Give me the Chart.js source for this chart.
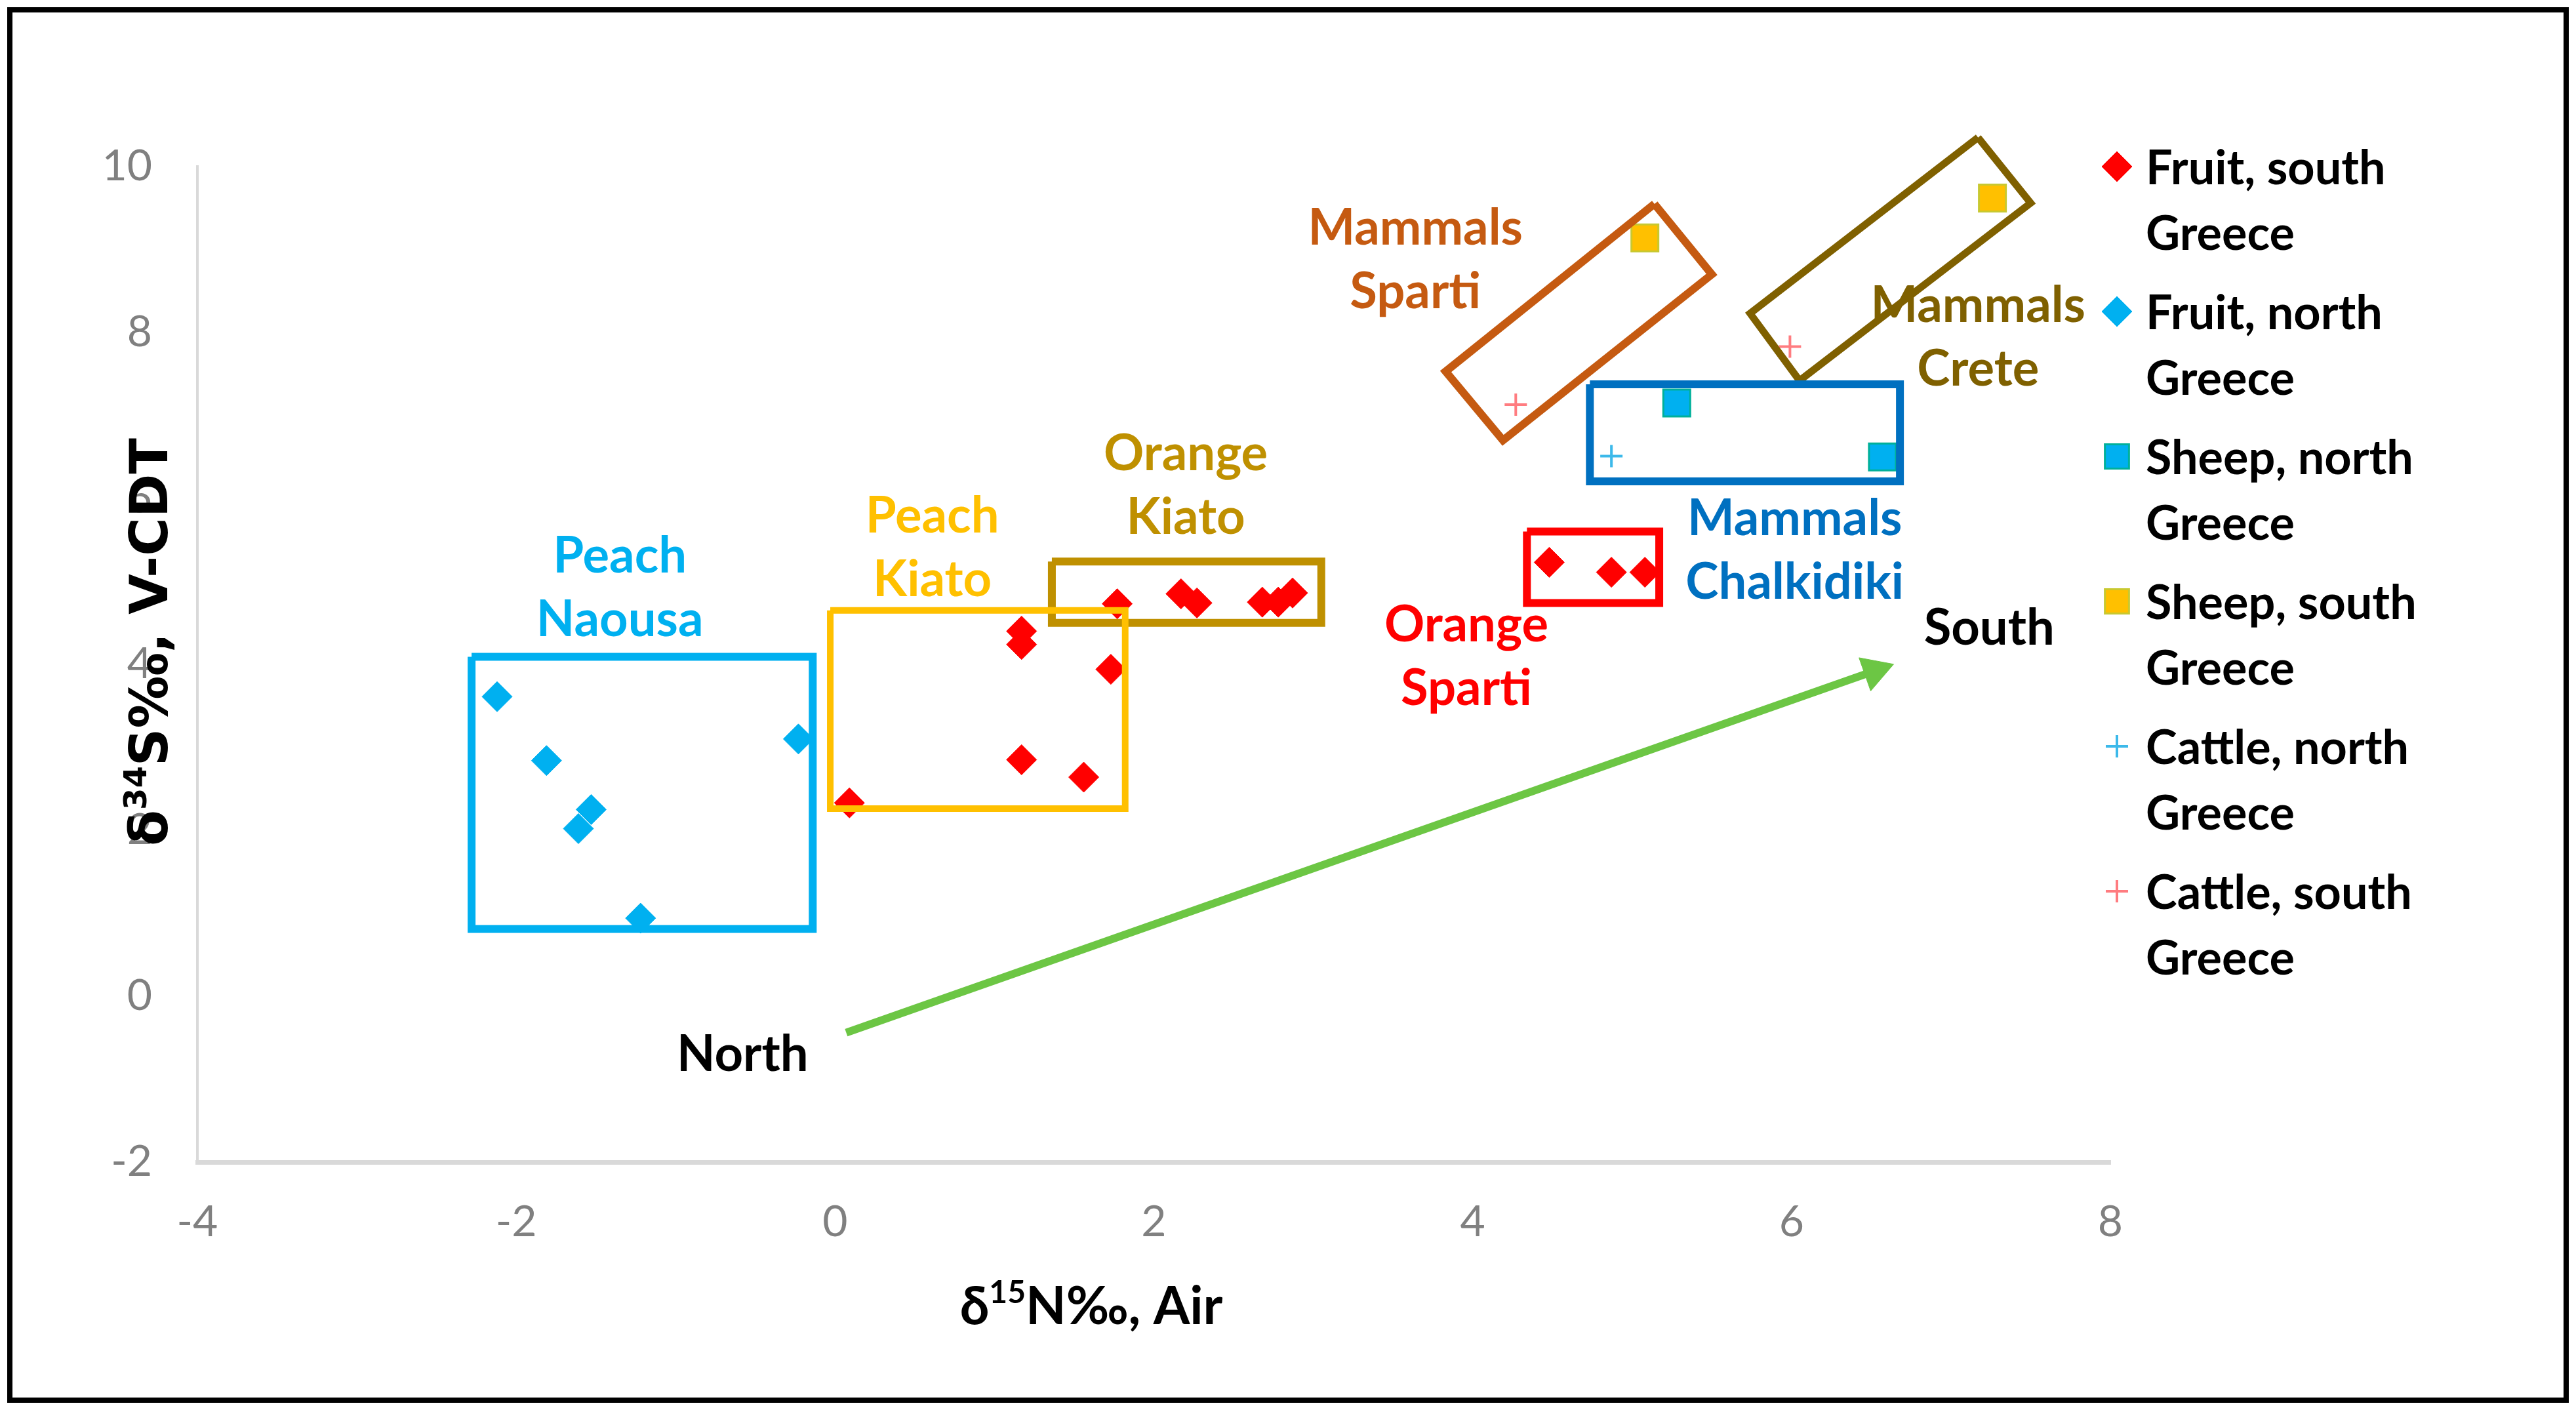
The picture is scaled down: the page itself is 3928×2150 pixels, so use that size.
<!DOCTYPE html>
<html>
<head>
<meta charset="utf-8">
<script src="https://cdn.jsdelivr.net/npm/chart.js@4.4.1/dist/chart.umd.min.js"></script>
<style>
  html, body { margin: 0; padding: 0; background: #fff; }
  canvas { display: block; }
</style>
</head>
<body>
<canvas id="myChart" width="3928" height="2150"></canvas>
<script>
// d15N (x) and d34S (y) values
const fruitSouthX = [0.09, 1.17, 1.17, 1.17, 1.56, 1.73, 1.77, 2.17, 2.27, 2.68, 2.78, 2.87, 4.48, 4.87, 5.08];
const fruitSouthY = [2.33, 4.40, 4.24, 2.85, 2.64, 3.94, 4.73, 4.85, 4.74, 4.75, 4.75, 4.86, 5.23, 5.11, 5.11];
const fruitNorthX = [-2.12, -1.81, -1.61, -1.53, -1.22, -0.23];
const fruitNorthY = [3.61, 2.84, 2.02, 2.25, 0.94, 3.10];
const sheepNorthX = [5.28, 6.57];
const sheepNorthY = [7.15, 6.50];
const sheepSouthX = [5.08, 7.26];
const sheepSouthY = [9.14, 9.62];
const cattleNorthX = [4.87];
const cattleNorthY = [6.51];
const cattleSouthX = [4.27, 5.99];
const cattleSouthY = [7.13, 7.83];

const xTicks = [-4, -2, 0, 2, 4, 6, 8];
const yTicks = [-2, 0, 2, 4, 6, 8, 10];

const seriesNames = [
  ["Fruit, south", "Greece"],
  ["Fruit, north", "Greece"],
  ["Sheep, north", "Greece"],
  ["Sheep, south", "Greece"],
  ["Cattle, north", "Greece"],
  ["Cattle, south", "Greece"],
];

// group outlines, corners in data units
const boxNames = ["Peach Naousa", "Peach Kiato", "Orange Kiato", "Orange Sparti",
  "Mammals Chalkidiki", "Mammals Sparti", "Mammals Crete"];
const boxX = [
  [-2.28, -0.14, -0.14, -2.28],
  [-0.03, 1.82, 1.82, -0.03],
  [1.36, 3.05, 3.05, 1.36],
  [4.34, 5.17, 5.17, 4.34],
  [4.735, 6.68, 6.68, 4.735],
  [5.14, 5.50, 4.19, 3.83],
  [7.17, 7.50, 6.05, 5.74],
];
const boxY = [
  [4.09, 4.09, 0.81, 0.81],
  [4.65, 4.65, 2.26, 2.26],
  [5.24, 5.24, 4.50, 4.50],
  [5.60, 5.60, 4.74, 4.74],
  [7.375, 7.375, 6.205, 6.205],
  [9.55, 8.70, 6.70, 7.53],
  [10.35, 9.56, 7.42, 8.23],
];

// north -> south arrow (start, head centre)
const arrowX = [0.07, 6.52];
const arrowY = [-0.44, 3.92];

// text notes on the plot
const noteText = [["Peach", "Naousa"], ["Peach", "Kiato"], ["Orange", "Kiato"], ["Mammals", "Sparti"],
  ["Mammals", "Crete"], ["Mammals", "Chalkidiki"], ["Orange", "Sparti"], ["South"], ["North"]];
const noteX = [-1.35, 0.61, 2.20, 3.64, 7.17, 6.02, 3.96, 7.24, -0.58];
const noteY = [5.30, 5.78, 6.53, 9.25, 8.32, 5.75, 4.47, 4.43, -0.71];

const noteColors = ["#00B0F0", "#FFC000", "#BF9000", "#C55A11", "#7F6000", "#0070C0", "#FF0000", "#000", "#000"];
const boxColors = ["#00B0F0", "#FFC000", "#BF9000", "#FF0000", "#0070C0", "#C55A11", "#7F6000"];
const boxWidths = [12, 10, 12, 12, 12, 12, 11];

function pts(xs, ys) {
  return xs.map((x, i) => ({ x: x, y: ys[i] }));
}

const markers = [
  { pointStyle: "rectRot", radius: 23, fill: "#FF0000", stroke: "#FF0000", bw: 1 },
  { pointStyle: "rectRot", radius: 23, fill: "#00B0F0", stroke: "#00B0F0", bw: 1 },
  { pointStyle: "rect", radius: 29, fill: "#00B0F0", stroke: "#00B09A", bw: 3 },
  { pointStyle: "rect", radius: 29, fill: "#FFC000", stroke: "#C8C830", bw: 3 },
  { pointStyle: "cross", radius: 17, fill: "#3CB9EA", stroke: "#3CB9EA", bw: 4 },
  { pointStyle: "cross", radius: 17, fill: "#FF7C80", stroke: "#FF7C80", bw: 4 },
];

const seriesData = [
  pts(fruitSouthX, fruitSouthY),
  pts(fruitNorthX, fruitNorthY),
  pts(sheepNorthX, sheepNorthY),
  pts(sheepSouthX, sheepSouthY),
  pts(cattleNorthX, cattleNorthY),
  pts(cattleSouthX, cattleSouthY),
];

const datasets = [];

boxNames.forEach((name, i) => {
  const d = pts(boxX[i], boxY[i]);
  d.push(d[0]);
  datasets.push({
    label: name,
    data: d,
    showLine: true,
    borderColor: boxColors[i],
    borderWidth: boxWidths[i],
    borderJoinStyle: "miter",
    pointRadius: 0,
    fill: false,
    tension: 0,
    clip: false,
    order: 0,
  });
});

datasets.push({
  label: "North-South",
  data: pts(arrowX, arrowY),
  showLine: true,
  borderColor: "#6CC644",
  backgroundColor: "#6CC644",
  borderWidth: 12,
  pointStyle: "triangle",
  pointRadius: [0, 31],
  pointBorderWidth: 1,
  pointRotation: (c) => {
    const d = c.dataset.data, sx = c.chart.scales.x, sy = c.chart.scales.y;
    const dx = sx.getPixelForValue(d[1].x) - sx.getPixelForValue(d[0].x);
    const dy = sy.getPixelForValue(d[1].y) - sy.getPixelForValue(d[0].y);
    return Math.atan2(dy, dx) * 180 / Math.PI + 90;
  },
  order: 0,
});

seriesNames.forEach((name, i) => {
  const m = markers[i];
  datasets.push({
    label: name.join(" "),
    data: seriesData[i],
    pointStyle: m.pointStyle,
    pointRadius: m.radius,
    backgroundColor: m.fill,
    borderColor: m.stroke,
    pointBorderWidth: m.bw,
    clip: false,
    order: 1,
  });
});

function drawMarker(ctx, m, x, y) {
  ctx.save();
  ctx.fillStyle = m.fill;
  ctx.strokeStyle = m.stroke;
  ctx.lineWidth = m.bw;
  ctx.beginPath();
  const r = m.radius;
  if (m.pointStyle === "rectRot") {
    ctx.moveTo(x - r, y); ctx.lineTo(x, y - r); ctx.lineTo(x + r, y); ctx.lineTo(x, y + r);
    ctx.closePath(); ctx.fill(); ctx.stroke();
  } else if (m.pointStyle === "rect") {
    const s = r * Math.SQRT1_2;
    ctx.rect(x - s, y - s, 2 * s, 2 * s); ctx.fill(); ctx.stroke();
  } else {
    ctx.moveTo(x - r, y); ctx.lineTo(x + r, y); ctx.moveTo(x, y - r); ctx.lineTo(x, y + r);
    ctx.stroke();
  }
  ctx.restore();
}

// text with superscript parts, centred on (cx, cy)
function drawRich(ctx, parts, cx, cy, size, family, angle) {
  ctx.save();
  ctx.translate(cx, cy);
  ctx.rotate(angle);
  ctx.fillStyle = "#000";
  ctx.textBaseline = "alphabetic";
  ctx.textAlign = "left";
  let total = 0;
  parts.forEach((p) => {
    ctx.font = "bold " + (p.sup ? size * 0.6 : size) + "px " + family;
    p.w = ctx.measureText(p.t).width;
    total += p.w;
  });
  let x = -total / 2;
  const base = size * 0.36;
  parts.forEach((p) => {
    ctx.font = "bold " + (p.sup ? size * 0.6 : size) + "px " + family;
    ctx.fillText(p.t, x, p.sup ? base - size * 0.4 : base);
    x += p.w;
  });
  ctx.restore();
}

const extras = {
  id: "extras",
  beforeDraw(chart) {
    const ctx = chart.ctx;
    ctx.save();
    ctx.fillStyle = "#fff";
    ctx.fillRect(0, 0, chart.width, chart.height);
    ctx.restore();
  },
  afterDatasetsDraw(chart) {
    const ctx = chart.ctx, sx = chart.scales.x, sy = chart.scales.y;
    ctx.save();
    ctx.font = "bold 76px Lato";
    ctx.textAlign = "center";
    ctx.textBaseline = "middle";
    noteText.forEach((lines, i) => {
      ctx.fillStyle = noteColors[i];
      const px = sx.getPixelForValue(noteX[i]);
      const py = sy.getPixelForValue(noteY[i]);
      lines.forEach((t, k) => ctx.fillText(t, px, py + k * 97));
    });
    ctx.restore();
  },
  afterDraw(chart) {
    const ctx = chart.ctx;
    // legend
    ctx.save();
    ctx.font = "bold 72px Lato";
    ctx.fillStyle = "#000";
    ctx.textAlign = "left";
    ctx.textBaseline = "middle";
    seriesNames.forEach((lines, i) => {
      const y = 254 + i * 221;
      drawMarker(ctx, Object.assign({}, markers[i], { radius: markers[i].pointStyle === "rect" ? 26 : markers[i].radius }), 3228, y);
      lines.forEach((t, k) => ctx.fillText(t, 3272, y + 4 + k * 100));
    });
    ctx.restore();
    // axis titles
    drawRich(ctx, [{ t: "δ" }, { t: "15", sup: true }, { t: "N‰, Air" }], 1664, 1990, 80, "Lato", 0);
    drawRich(ctx, [{ t: "δ" }, { t: "34", sup: true }, { t: "S‰, V-CDT" }], 226, 979, 80, "'DejaVu Sans'", -Math.PI / 2);
    // frame
    ctx.save();
    ctx.strokeStyle = "#000";
    ctx.lineWidth = 8;
    ctx.strokeRect(15, 15, chart.width - 30, chart.height - 30);
    ctx.restore();
  },
};

const ctx = document.getElementById("myChart").getContext("2d");
const myChart = new Chart(ctx, {
  type: "scatter",
  data: { datasets: datasets },
  options: {
    responsive: false,
    animation: false,
    devicePixelRatio: 1,
    layout: { padding: { left: 0, top: 254, right: 710, bottom: 0 } },
    plugins: { legend: { display: false }, tooltip: { enabled: false } },
    scales: {
      x: {
        type: "linear",
        min: -4,
        max: 8,
        afterBuildTicks: (s) => { s.ticks = xTicks.map((v) => ({ value: v })); },
        afterFit: (s) => { s.height = 378; },
        grid: { display: false, drawTicks: false },
        border: { display: true, color: "#D9D9D9", width: 7 },
        ticks: { color: "#808080", font: { family: "Lato", size: 66 }, padding: 52 },
      },
      y: {
        type: "linear",
        min: -2,
        max: 10,
        afterBuildTicks: (s) => { s.ticks = yTicks.map((v) => ({ value: v })); },
        afterFit: (s) => { s.width = 301; },
        grid: { display: false, drawTicks: false },
        border: { display: true, color: "#D9D9D9", width: 4 },
        ticks: { color: "#808080", font: { family: "Lato", size: 66 }, padding: 69 },
      },
    },
  },
  plugins: [extras],
});
</script>
</body>
</html>
